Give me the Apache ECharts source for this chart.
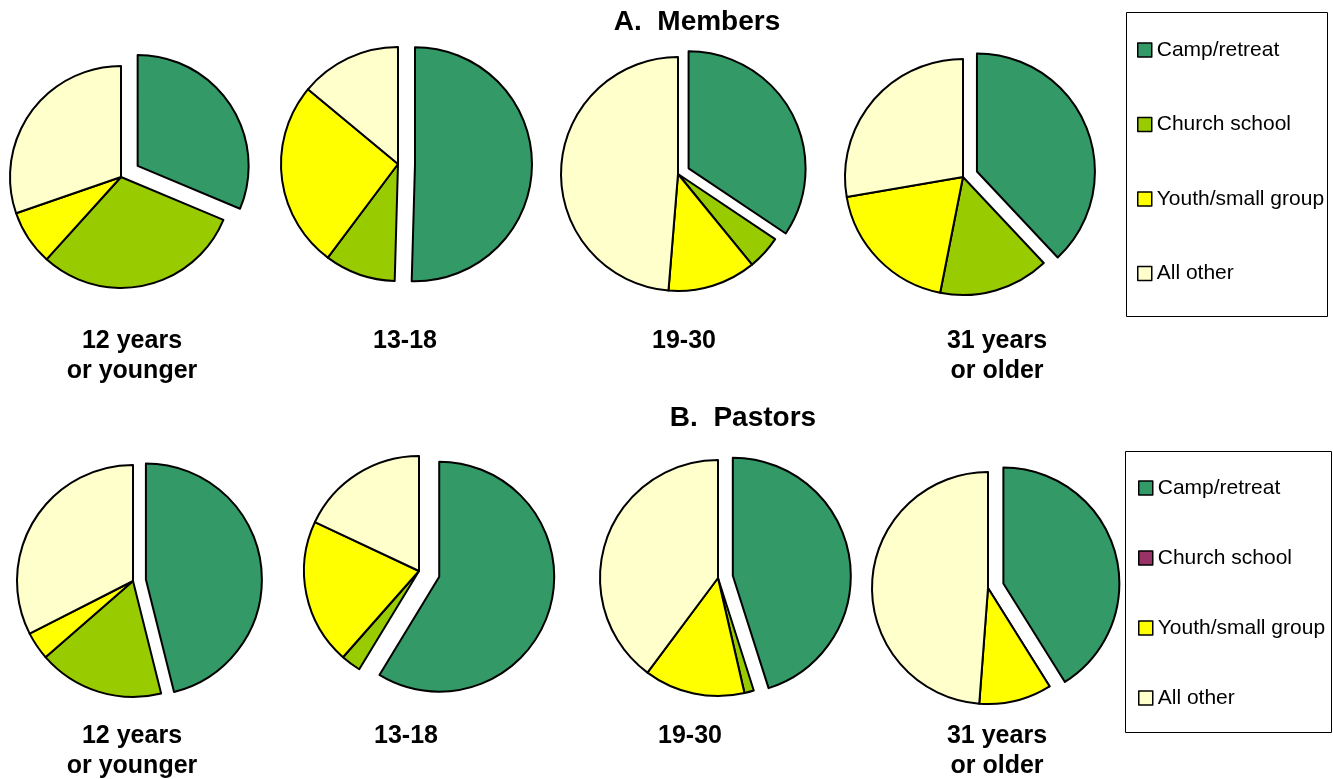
<!DOCTYPE html>
<html>
<head>
<meta charset="utf-8">
<title>Members / Pastors pies</title>
<script src="https://cdn.jsdelivr.net/npm/echarts@6/dist/echarts.min.js"></script>
<style>
  html, body { margin: 0; padding: 0; background: #fff; }
  #chart { width: 1333px; height: 779px; }
</style>
</head>
<body>
<div id="chart"></div>
<script>
// categories (slice order, clockwise from 12 o'clock)
var categories = ['Camp/retreat', 'Church school', 'Youth/small group', 'All other'];
var ageLabels = ['12 years\nor younger', '13-18', '19-30', '31 years\nor older'];

// A. Members, percent
var members_12 = [31.3, 30.4, 8.0, 30.3];
var members_13_18 = [50.5, 9.8, 25.8, 14.0];
var members_19_30 = [34.4, 4.7, 12.2, 48.7];
var members_31 = [38.0, 15.1, 19.2, 27.7];

// B. Pastors, percent
var pastors_12 = [46.1, 17.5, 3.9, 32.5];
var pastors_13_18 = [58.7, 2.8, 20.5, 18.0];
var pastors_19_30 = [45.1, 1.3, 13.8, 39.8];
var pastors_31 = [41.1, 0, 10.1, 48.8];

var colors = ['#339966', '#99CC00', '#FFFF00', '#FFFFCC'];

// layout of the pies: [cx, cy, radius, explode offset]
var pieLayout = [
  [121, 177, 111, 20], [398, 164, 117, 17], [678, 174, 117, 12], [963, 177, 118, 15],
  [133, 581, 116, 13], [419, 571, 115, 21], [718, 578, 118, 15], [988, 588, 116, 16]
];
var labelX = [132, 405, 684, 997, 132, 406, 690, 997];

var allValues = [members_12, members_13_18, members_19_30, members_31,
                 pastors_12, pastors_13_18, pastors_19_30, pastors_31];

var series = allValues.map(function (vals, i) {
  var L = pieLayout[i];
  return {
    type: 'pie',
    center: [L[0], L[1]],
    radius: L[2],
    startAngle: 90,
    clockwise: true,
    selectedMode: 'multiple',
    selectedOffset: L[3],
    avoidLabelOverlap: false,
    label: { show: false },
    labelLine: { show: false },
    itemStyle: { borderColor: '#000', borderWidth: 2 },
    emphasis: { disabled: true },
    select: { itemStyle: { borderColor: '#000', borderWidth: 2 } },
    data: vals.map(function (v, k) {
      return { name: categories[k], value: v, selected: k === 0 };
    })
  };
});

var font = 'Liberation Sans, Arial, sans-serif';
var titles = [
  { text: 'A.  Members', left: 697, top: 8 },
  { text: 'B.  Pastors', left: 743, top: 404 }
].map(function (t) {
  return {
    text: t.text, left: t.left, top: t.top, textAlign: 'center', padding: 0,
    textStyle: { fontFamily: font, fontSize: 28, fontWeight: 'bold', color: '#000' }
  };
});
ageLabels.concat(ageLabels).forEach(function (txt, i) {
  titles.push({
    text: txt,
    left: labelX[i],
    top: i < 4 ? 326 : 721,
    textAlign: 'center',
    padding: 0,
    textStyle: { fontFamily: font, fontSize: 25, fontWeight: 'bold', color: '#000', lineHeight: 30 }
  });
});

var legendText = { fontFamily: font, fontSize: 21, color: '#000', lineHeight: 22 };

var option = {
  animation: false,
  color: colors,
  title: titles,
  legend: [
    {
      orient: 'vertical', left: 1132, top: 34, itemGap: 52.5,
      icon: 'rect', itemWidth: 14, itemHeight: 14,
      itemStyle: { borderColor: '#000', borderWidth: 1.5 },
      textStyle: legendText,
      selectedMode: false,
      data: categories
    },
    {
      orient: 'vertical', left: 1133, top: 472, itemGap: 48,
      icon: 'rect', itemWidth: 14, itemHeight: 14,
      itemStyle: { borderColor: '#000', borderWidth: 1.5 },
      textStyle: legendText,
      selectedMode: false,
      data: categories.map(function (c, k) {
        // pastors legend shows church school in maroon
        return k === 1 ? { name: c, itemStyle: { color: '#993366' } } : { name: c };
      })
    }
  ],
  graphic: [
    { type: 'rect', shape: { x: 1126.5, y: 12.5, width: 201, height: 304 },
      style: { fill: 'none', stroke: '#000', lineWidth: 1 }, z: -1 },
    { type: 'rect', shape: { x: 1125.5, y: 451.5, width: 206, height: 281 },
      style: { fill: 'none', stroke: '#000', lineWidth: 1 }, z: -1 }
  ],
  series: series
};

var myChart = echarts.init(document.getElementById('chart'));
myChart.setOption(option);
</script>
</body>
</html>
